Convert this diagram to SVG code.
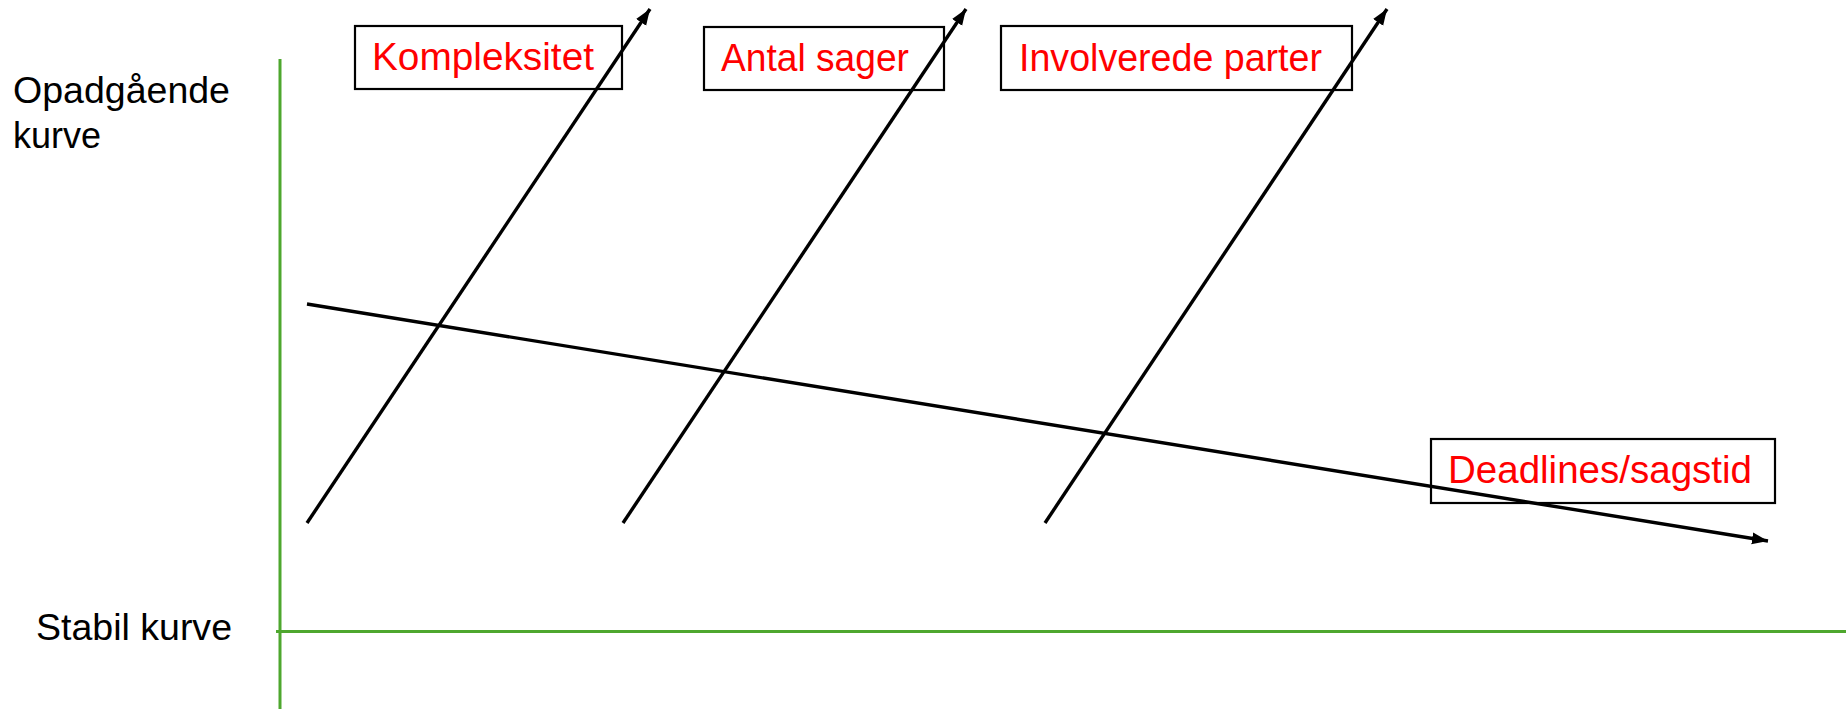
<svg xmlns="http://www.w3.org/2000/svg" width="1846" height="709" viewBox="0 0 1846 709">
  <style>
    .box { fill: #ffffff; stroke: #000000; stroke-width: 2.2; }
    .lbl { font-family: "Liberation Sans", Arial, sans-serif; font-size: 38px; fill: #ff0000; }
    .axis-lbl { font-family: "Liberation Sans", Arial, sans-serif; font-size: 36px; fill: #000000; }
    .axis { stroke: #4ea72e; stroke-width: 3; fill: none; }
    .conn { stroke: #000000; stroke-width: 3.4; fill: none; marker-end: url(#arrow); }
  </style>
  <defs>
    <marker id="arrow" markerUnits="userSpaceOnUse" markerWidth="17" markerHeight="14" viewBox="0 0 17 14" refX="16" refY="7" orient="auto">
      <path d="M0,1 L16,7 L0,13 Z" fill="#000000"/>
    </marker>
  </defs>
  <rect width="1846" height="709" fill="#ffffff"/>

  <g id="axes">
    <line class="axis" x1="280" y1="59" x2="280" y2="709"/>
    <line class="axis" x1="276" y1="631.5" x2="1846" y2="631.5"/>
  </g>

  <g id="label-opadgaaende">
    <text class="axis-lbl" x="13" y="103" textLength="217" lengthAdjust="spacingAndGlyphs">Opadgående</text>
    <text class="axis-lbl" x="13" y="148">kurve</text>
  </g>
  <g id="label-stabil">
    <text class="axis-lbl" x="36" y="640" textLength="196" lengthAdjust="spacingAndGlyphs">Stabil kurve</text>
  </g>

  <g id="node-kompleksitet">
    <rect class="box" x="355" y="26" width="267" height="63"/>
    <text class="lbl" x="372" y="70" textLength="222" lengthAdjust="spacingAndGlyphs">Kompleksitet</text>
  </g>
  <g id="node-antal-sager">
    <rect class="box" x="704" y="27" width="240" height="63"/>
    <text class="lbl" x="721" y="71" textLength="188" lengthAdjust="spacingAndGlyphs">Antal sager</text>
  </g>
  <g id="node-involverede-parter">
    <rect class="box" x="1001" y="26" width="351" height="64"/>
    <text class="lbl" x="1019" y="71" textLength="303" lengthAdjust="spacingAndGlyphs">Involverede parter</text>
  </g>
  <g id="node-deadlines">
    <rect class="box" x="1431" y="439" width="344" height="64"/>
    <text class="lbl" x="1448" y="483" textLength="304" lengthAdjust="spacingAndGlyphs">Deadlines/sagstid</text>
  </g>

  <g id="connectors">
    <line class="conn" x1="307" y1="523" x2="650" y2="9"/>
    <line class="conn" x1="623" y1="523" x2="966" y2="9"/>
    <line class="conn" x1="1045" y1="523" x2="1387" y2="9"/>
    <line class="conn" x1="307" y1="304" x2="1768" y2="541"/>
  </g>
</svg>
